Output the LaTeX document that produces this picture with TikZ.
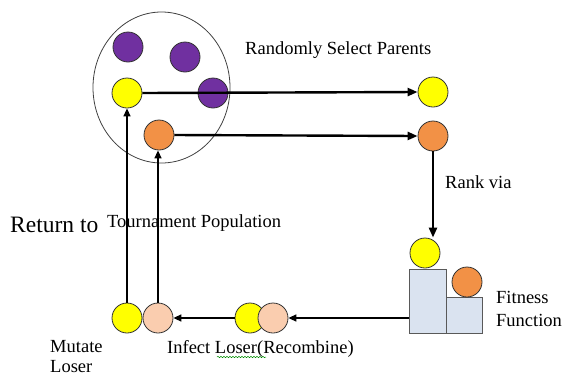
\documentclass[tikz,border=0pt]{standalone}
\usepackage{fontspec}
\setmainfont{Liberation Serif}
\newfontfamily\tourfont{Liberation Serif}
\definecolor{tourPurple}{RGB}{112,48,160}
\definecolor{tourYellow}{RGB}{255,255,0}
\definecolor{tourOrange}{RGB}{242,145,70}
\definecolor{tourPeach}{RGB}{250,205,175}
\definecolor{tourBox}{RGB}{218,227,240}
\usepackage{tikz}
\usetikzlibrary{arrows.meta,shapes.geometric,decorations.pathmorphing}

\begin{document}
\begin{tikzpicture}[x=1pt, y=-1pt,
    ball/.style={circle, draw=black!80, line width=0.8pt,
                 minimum size=30pt, inner sep=0pt},
    podium/.style={rectangle, draw=black!65, fill=tourBox,
                   line width=0.9pt, inner sep=0pt},
    txt/.style={anchor=base west, inner sep=0pt,
                font=\tourfont\fontsize{18.5}{22}\selectfont},
    bigarr/.style={-{Triangle[length=10pt, width=8pt]}, line width=2.4pt},
    thinarr/.style={-{Triangle[length=8pt, width=7pt]}, line width=1.5pt}
  ]
  \useasboundingbox (0,0) rectangle (566,376);

  \node[draw=black!75, line width=0.8pt, ellipse, inner sep=0pt,
        minimum width=137pt, minimum height=151pt] (pool) at (161.5,87.5) {};
  \node[ball, fill=tourPurple] (pu1) at (128,47) {};
  \node[ball, fill=tourPurple] (pu2) at (185,57) {};
  \node[ball, fill=tourPurple] (pu3) at (213,93) {};
  \node[ball, fill=tourYellow] (yA) at (127,93) {};
  \node[ball, fill=tourOrange] (oA) at (159,135) {};

  \node[ball, fill=tourYellow] (yB) at (433,92) {};
  \node[ball, fill=tourOrange] (oB) at (433,136) {};

  \node[podium, minimum width=37pt, minimum height=64pt] (tall) at (427.5,301) {};
  \node[podium, minimum width=36pt, minimum height=36pt] (short) at (464,315) {};
  \node[ball, fill=tourYellow] (yC) at (425,253) {};
  \node[ball, fill=tourOrange] (oC) at (467,282) {};

  \node[ball, fill=tourYellow] (yR) at (250,318) {};
  \node[ball, fill=tourPeach] (pR) at (273,318) {};
  \node[ball, fill=tourYellow] (yL) at (127,318) {};
  \node[ball, fill=tourPeach] (pL) at (158,318) {};

  \node[txt] (select) at (245,54) {Randomly Select Parents};
  \node[txt] (rank) at (445,188) {Rank via};
  \node[txt] (fit1) at (496,303) {Fitness};
  \node[txt] (fit2) at (496,326) {Function};
  \node[txt, font=\tourfont\fontsize{23.5}{28}\selectfont] (ret) at (10,232) {Return to};
  \node[txt] (tourn) at (107,227) {Tournament Population};
  \node[txt] (mut1) at (50,352) {Mutate};
  \node[txt] (mut2) at (50,372) {Loser};
  \node[txt] (infect) at (167,353) {Infect Loser(Recombine)};
  \draw[green!55!black, line width=0.5pt, decorate,
        decoration={snake, amplitude=0.7pt, segment length=3pt}]
    (217,357) -- (266,357);

  \draw[bigarr] (yA.east) -- (yB.west);
  \draw[bigarr] (oA.east) -- (oB.west);
  \draw[bigarr] (oB.south) -- (oB.south |- yC.north);
  \draw[thinarr] (pR.east -| tall.west) -- (pR.east);
  \draw[thinarr] (yR.west) -- (pL.east);
  \draw[thinarr] (yL.north) -- (yA.south);
  \draw[thinarr] (pL.north) -- (pL.north |- oA.south);
\end{tikzpicture}
\end{document}
